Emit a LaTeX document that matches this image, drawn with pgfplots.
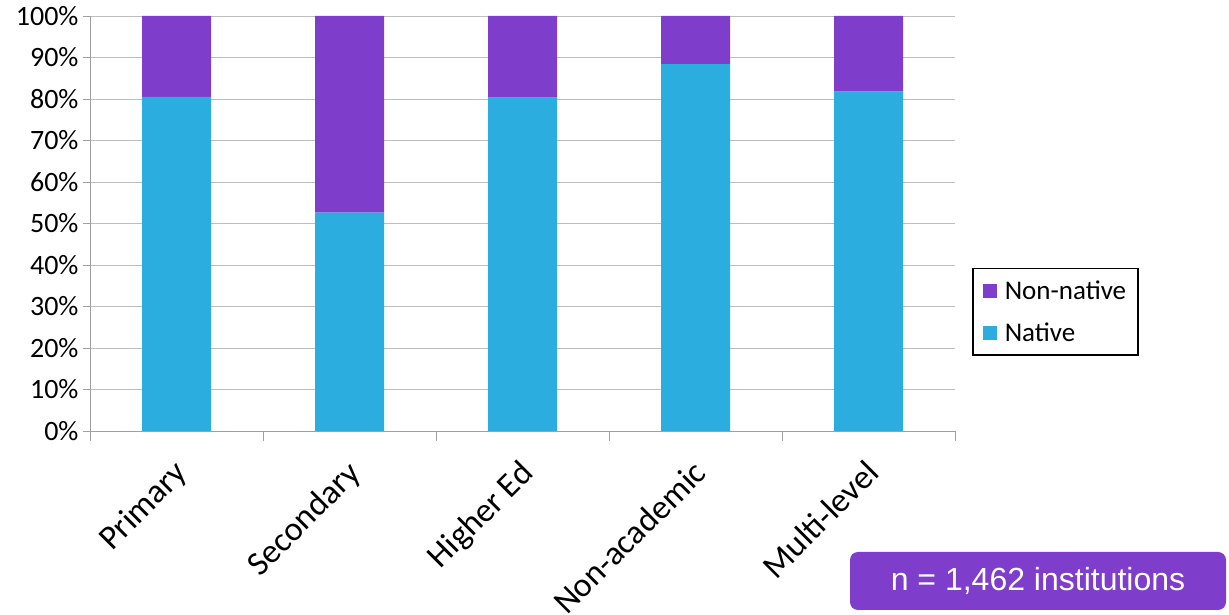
\documentclass[border=0pt]{standalone}
\usepackage{pgfplots}
\pgfplotsset{compat=1.18}
\usepackage{fontspec}
\setmainfont{Carlito}
\newfontfamily\arialfont{Liberation Sans}

\definecolor{nativeblue}{RGB}{43,174,223}
\definecolor{nonnative}{RGB}{126,61,203}
\definecolor{gridgray}{RGB}{190,190,190}
\definecolor{axisgray}{RGB}{160,160,160}

\begin{document}
\begin{tikzpicture}[x=1bp,y=1bp]
\useasboundingbox (0,0) rectangle (1229,615);
\begin{axis}[
  at={(90bp,184bp)}, anchor=south west,
  width=865bp, height=415bp, scale only axis,
  ybar stacked, bar width=69bp,
  xmin=-0.5, xmax=4.5, ymin=0, ymax=100,
  axis lines=left, axis line style={-, draw=axisgray, line width=0.8pt},
  xtick={0,1,2,3,4},
  xticklabels={Primary,Secondary,Higher Ed,Non-academic,Multi-level},
  major x tick style={draw=none},
  minor xtick={-0.5,0.5,1.5,2.5,3.5,4.5},
  minor x tick style={draw=axisgray, line width=0.8pt},
  minor tick length=10bp,
  tick align=outside,
  ytick={0,10,...,100},
  yticklabels={0\%,10\%,20\%,30\%,40\%,50\%,60\%,70\%,80\%,90\%,100\%},
  major tick length=7bp,
  y tick style={draw=axisgray, line width=0.8pt},
  ymajorgrids, grid style={draw=gridgray, line width=0.8pt},
  tick label style={text=black},
  yticklabel style={font=\fontsize{28bp}{32bp}\selectfont, xshift=-1bp},
  xticklabel style={font=\fontsize{34bp}{38bp}\selectfont,
    rotate=45, anchor=north east, xshift=-14bp, yshift=-8bp},
  legend style={at={(rel axis cs:1.0197,0.393)}, anchor=north west,
    draw=black, line width=1.5pt, inner xsep=10bp, inner ysep=10bp,
    font=\fontsize{27bp}{30bp}\selectfont,
    row sep=18bp, cells={anchor=west}},
  legend image code/.code={\fill[#1, draw=none] (0bp,-7bp) rectangle (14bp,7bp);
    \path (20bp,0bp);},
  reverse legend,
  clip=false,
]
\addplot[fill=nativeblue, draw=none] coordinates {(0,80.5) (1,52.6) (2,80.3) (3,88.4) (4,81.8)};
\addlegendentry{Native}
\addplot[fill=nonnative, draw=none] coordinates {(0,19.5) (1,47.4) (2,19.7) (3,11.6) (4,18.2)};
\addlegendentry{Non-native}
\end{axis}
\node[fill=nonnative, rounded corners=8bp, minimum width=376bp, minimum height=58bp,
  text=white, font=\arialfont\fontsize{32bp}{36bp}\selectfont, inner sep=0pt]
  at (1038,34) {n = 1,462 institutions};
\end{tikzpicture}
\end{document}
